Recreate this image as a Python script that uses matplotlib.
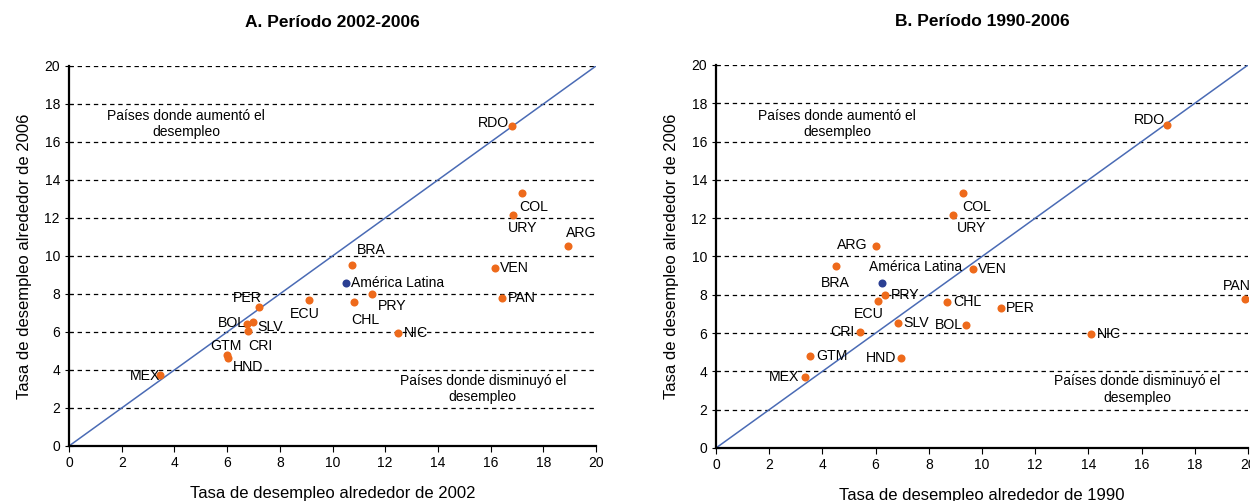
import matplotlib
matplotlib.use("Agg")
import matplotlib.pyplot as plt

plt.rcParams['font.family'] = ['Liberation Sans', 'DejaVu Sans']

# Panel A: 2002 vs 2006
paises_a = ['RDO', 'COL', 'URY', 'ARG', 'VEN', 'PAN', 'BRA', 'PRY', 'CHL', 'ECU',
            'NIC', 'PER', 'SLV', 'BOL', 'CRI', 'GTM', 'HND', 'MEX']
x_a = [16.8, 17.2, 16.85, 18.95, 16.15, 16.45, 10.75, 11.5, 10.8, 9.1,
       12.5, 7.2, 7.0, 6.75, 6.8, 6.0, 6.05, 3.45]
y_a = [16.85, 13.3, 12.15, 10.55, 9.35, 7.8, 9.5, 8.0, 7.6, 7.7,
       5.95, 7.3, 6.55, 6.4, 6.05, 4.8, 4.65, 3.75]
al_a = (10.5, 8.6)

# Panel B: 1990 vs 2006
paises_b = ['RDO', 'COL', 'URY', 'ARG', 'BRA', 'PRY', 'ECU', 'VEN', 'CHL', 'PER',
            'BOL', 'SLV', 'CRI', 'GTM', 'HND', 'MEX', 'NIC', 'PAN']
x_b = [16.95, 9.3, 8.9, 6.0, 4.5, 6.35, 6.1, 9.65, 8.7, 10.7,
       9.4, 6.85, 5.4, 3.55, 6.95, 3.35, 14.1, 19.9]
y_b = [16.85, 13.3, 12.15, 10.55, 9.5, 8.0, 7.7, 9.35, 7.6, 7.3,
       6.4, 6.55, 6.05, 4.8, 4.7, 3.7, 5.95, 7.8]
al_b = (6.25, 8.6)

# label offsets in points (dx, dy, ha)
offs_a = {'RDO': (-2, 2, 'right'), 'COL': (-2, -10, 'left'), 'URY': (-4, -9, 'left'),
          'ARG': (-2, 9, 'left'), 'VEN': (4, 0, 'left'), 'PAN': (4, 0, 'left'),
          'BRA': (3, 11, 'left'), 'PRY': (4, -9, 'left'), 'CHL': (-2, -13, 'left'),
          'ECU': (-3, -10, 'center'), 'NIC': (4, 0, 'left'), 'PER': (-8, 7, 'center'),
          'SLV': (3, -4, 'left'), 'BOL': (-1, 1, 'right'), 'CRI': (0, -11, 'left'),
          'GTM': (-1, 6, 'center'), 'HND': (3, -7, 'left'), 'MEX': (0, -1, 'right')}
offs_b = {'RDO': (-1, 4, 'right'), 'COL': (-1, -10, 'left'), 'URY': (3, -9, 'left'),
          'ARG': (-6, 1, 'right'), 'BRA': (0, -12, 'center'), 'PRY': (4, 0, 'left'),
          'ECU': (-7, -10, 'center'), 'VEN': (4, 0, 'left'), 'CHL': (4, 0, 'left'),
          'PER': (4, 0, 'left'), 'BOL': (-2, 0, 'right'), 'SLV': (4, 0, 'left'),
          'CRI': (-4, 0, 'right'), 'GTM': (4, 0, 'left'), 'HND': (-3, 0, 'right'),
          'MEX': (-4, 0, 'right'), 'NIC': (4, 0, 'left'), 'PAN': (4, 9, 'right')}

naranja = '#EE6A1B'
azul = '#2B3F93'
linea = '#4A6BB5'


def panel(ax, paises, xs, ys, al, offs, al_off, titulo, xlab, xpad):
    ax.plot([0, 20], [0, 20], color=linea, lw=1.1, zorder=2)
    ax.plot(xs, ys, 'o', color=naranja, ms=5.8, mec='none', zorder=3)
    ax.plot([al[0]], [al[1]], 'o', color=azul, ms=5.8, mec='none', zorder=3)
    for p, x, y in zip(paises, xs, ys):
        dx, dy, ha = offs[p]
        ax.annotate(p, (x, y), xytext=(dx, dy), textcoords='offset points',
                    ha=ha, va='center', fontsize=10.2)
    ax.annotate('América Latina', al, xytext=al_off[:2], textcoords='offset points',
                ha=al_off[2], va='center', fontsize=10)
    ax.set_xlim(0, 20)
    ax.set_ylim(0, 20)
    ax.set_xticks(range(0, 21, 2))
    ax.set_yticks(range(0, 21, 2))
    for v in range(2, 21, 2):
        ax.axhline(v, color='black', lw=0.9, ls=(0, (3.5, 3)), zorder=1)
    for s in ['top', 'right']:
        ax.spines[s].set_visible(False)
    for s in ['left', 'bottom']:
        ax.spines[s].set_linewidth(1.6)
    ax.tick_params(axis='y', direction='inout', length=6, labelsize=10)
    ax.tick_params(axis='x', direction='out', length=4, labelsize=10)
    ax.set_title(titulo, fontsize=12.5, fontweight='bold', pad=28)
    ax.set_xlabel(xlab, fontsize=12, labelpad=xpad)
    ax.set_ylabel('Tasa de desempleo alrededor de 2006', fontsize=12, labelpad=9)


fig = plt.figure(figsize=(12.5, 5.01), dpi=100)
ax1 = fig.add_axes([0.0552, 0.1098, 0.4216, 0.7585])
ax2 = fig.add_axes([0.5728, 0.1058, 0.4256, 0.7645])

panel(ax1, paises_a, x_a, y_a, al_a, offs_a, (4, 0, 'left'),
      'A. Período 2002-2006', 'Tasa de desempleo alrededor de 2002', 11)
panel(ax2, paises_b, x_b, y_b, al_b, offs_b, (24, 12, 'center'),
      'B. Período 1990-2006', 'Tasa de desempleo alrededor de 1990', 11)

ax1.text(4.45, 16.95, 'Países donde aumentó el\ndesempleo', ha='center', va='center', fontsize=10)
ax1.text(15.7, 3.0, 'Países donde disminuyó el\ndesempleo', ha='center', va='center', fontsize=10)
ax2.text(4.55, 16.9, 'Países donde aumentó el\ndesempleo', ha='center', va='center', fontsize=10)
ax2.text(15.85, 3.05, 'Países donde disminuyó el\ndesempleo', ha='center', va='center', fontsize=10)

fig.savefig('out.png', dpi=100)
